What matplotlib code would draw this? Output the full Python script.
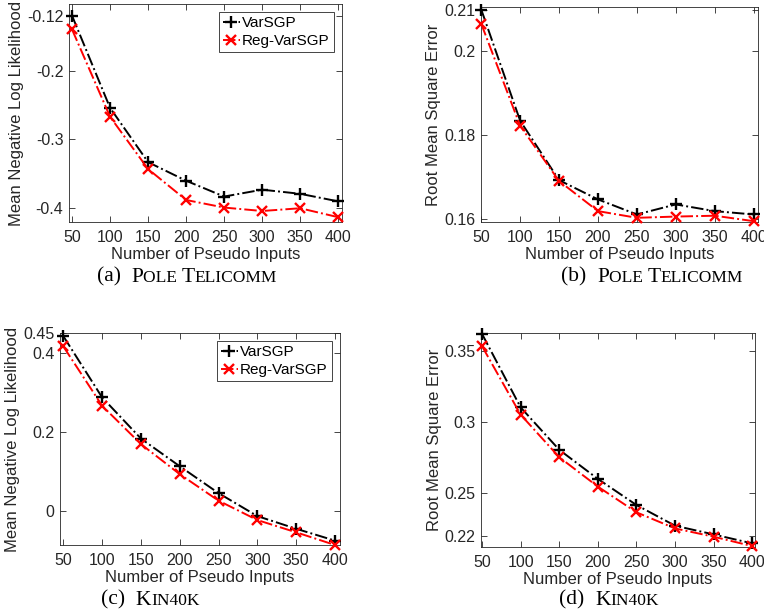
import matplotlib
matplotlib.use("Agg")
import matplotlib.pyplot as plt
from matplotlib.offsetbox import TextArea, HPacker, AnnotationBbox

# data
n_pseudo = [50, 100, 150, 200, 250, 300, 350, 400]

pole_nll_var = [-0.120, -0.254, -0.333, -0.360, -0.383, -0.373, -0.379, -0.390]
pole_nll_reg = [-0.140, -0.267, -0.343, -0.388, -0.399, -0.404, -0.400, -0.413]

pole_rmse_var = [0.2100, 0.1834, 0.1692, 0.1646, 0.1610, 0.1634, 0.1618, 0.1610]
pole_rmse_reg = [0.2066, 0.1822, 0.1690, 0.1618, 0.1602, 0.1605, 0.1607, 0.1594]

kin_nll_var = [0.442, 0.287, 0.183, 0.113, 0.045, -0.013, -0.045, -0.075]
kin_nll_reg = [0.416, 0.266, 0.169, 0.093, 0.026, -0.023, -0.054, -0.086]

kin_rmse_var = [0.3618, 0.3103, 0.2806, 0.2602, 0.2419, 0.2274, 0.2213, 0.2150]
kin_rmse_reg = [0.3532, 0.3052, 0.2754, 0.2548, 0.2368, 0.2255, 0.2197, 0.2131]

W, H = 764, 613
SANS = ["Liberation Sans", "DejaVu Sans"]
SERIF = ["Liberation Serif", "DejaVu Serif"]
GREY = "#262626"

fig = plt.figure(figsize=(W / 100, H / 100), dpi=100)


def add_ax(left, top, right, bottom):
    return fig.add_axes([left / W, 1 - bottom / H, (right - left) / W, (bottom - top) / H])


def style(ax, yticks, ylabels, xlim, ylim, ylabel):
    ax.set_xlim(*xlim)
    ax.set_ylim(*ylim)
    ax.set_xticks(n_pseudo)
    ax.set_xticklabels([str(v) for v in n_pseudo], fontfamily=SANS, fontsize=11.5, color=GREY)
    ax.set_yticks(yticks)
    ax.set_yticklabels(ylabels, fontfamily=SANS, fontsize=11.5, color=GREY)
    ax.tick_params(direction="in", top=True, right=True, length=4, width=0.6,
                   colors=GREY, labelcolor=GREY)
    ax.tick_params(axis="x", pad=6)
    ax.tick_params(axis="y", pad=4)
    for s in ax.spines.values():
        s.set_linewidth(0.6)
        s.set_color(GREY)
    ax.set_xlabel("Number of Pseudo Inputs", fontfamily=SANS, fontsize=12, color=GREY, labelpad=1)
    ax.set_ylabel(ylabel, fontfamily=SANS, fontsize=12, color=GREY, labelpad=2)


def curves(ax, var, reg, legend=False):
    ax.plot(n_pseudo, var, color="black", ls="-.", lw=1.4, marker="+", ms=9, mew=1.7,
            label="VarSGP", clip_on=False, zorder=3)
    ax.plot(n_pseudo, reg, color="red", ls="-.", lw=1.4, marker="x", ms=6.5, mew=1.7,
            label="Reg-VarSGP", clip_on=False, zorder=3)
    if legend:
        leg = ax.legend(loc="upper right", prop={"family": SANS, "size": 11},
                        fancybox=False, edgecolor=GREY, framealpha=1,
                        handlelength=1.1, handletextpad=0.15, borderpad=0.25,
                        labelspacing=0.25, borderaxespad=0.55)
        leg.get_frame().set_linewidth(0.6)


def caption(cx, cy, tag, words):
    # small caps: first letter big, rest smaller uppercase
    parts = [TextArea(tag + "  ", textprops=dict(family=SERIF, size=15.5, color="black"))]
    for i, w in enumerate(words):
        parts.append(TextArea(w[0], textprops=dict(family=SERIF, size=15.5, color="black")))
        rest = w[1:].upper() + (" " if i < len(words) - 1 else "")
        parts.append(TextArea(rest, textprops=dict(family=SERIF, size=12.5, color="black")))
    box = HPacker(children=parts, align="baseline", pad=0, sep=0)
    ab = AnnotationBbox(box, (cx, H - cy), xycoords="figure pixels", frameon=False,
                        box_alignment=(0.5, 0.5), pad=0)
    fig.add_artist(ab)


# (a) Pole Telicomm NLL
ax = add_ax(69, 4, 342, 222)
curves(ax, pole_nll_var, pole_nll_reg, legend=True)
style(ax, [-0.4, -0.3, -0.2, -0.12], ["-0.4", "-0.3", "-0.2", "-0.12"],
      (46, 405), (-0.42, -0.103), "Mean Negative Log Likelihood")
caption(187, 277, "(a)", ["Pole", "Telicomm"])

# (b) Pole Telicomm RMSE
ax = add_ax(481, 7, 758, 222)
curves(ax, pole_rmse_var, pole_rmse_reg)
style(ax, [0.16, 0.18, 0.2, 0.21], ["0.16", "0.18", "0.2", "0.21"],
      (49.7, 405.6), (0.1592, 0.2106), "Root Mean Square Error")
caption(652, 277, "(b)", ["Pole", "Telicomm"])

# (c) Kin40K NLL
ax = add_ax(60, 333, 340, 545)
curves(ax, kin_nll_var, kin_nll_reg, legend=True)
style(ax, [0, 0.2, 0.4, 0.45], ["0", "0.2", "0.4", "0.45"],
      (45.7, 406.4), (-0.086, 0.45), "Mean Negative Log Likelihood")
caption(150, 600, "(c)", ["Kin40K"])

# (d) Kin40K RMSE
ax = add_ax(481, 333, 755, 547)
curves(ax, kin_rmse_var, kin_rmse_reg)
style(ax, [0.22, 0.25, 0.3, 0.35], ["0.22", "0.25", "0.3", "0.35"],
      (48.7, 403.5), (0.2125, 0.3624), "Root Mean Square Error")
caption(609, 600, "(d)", ["Kin40K"])

fig.savefig("out.png", dpi=100)
